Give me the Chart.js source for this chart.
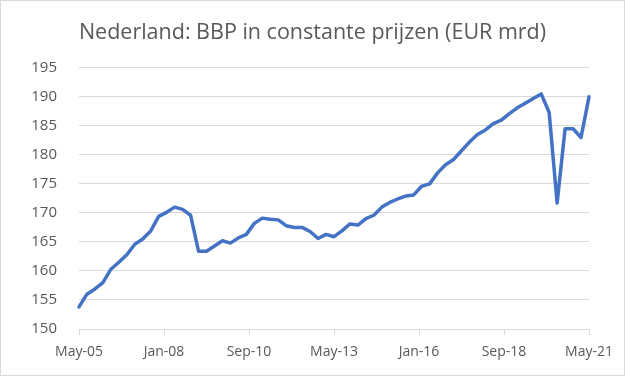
<!DOCTYPE html>
<html>
<head>
<meta charset="utf-8">
<script src="https://cdn.jsdelivr.net/npm/chart.js@4/dist/chart.umd.min.js"></script>
<style>
html, body { margin: 0; padding: 0; background: #fff; }
#wrap { position: relative; width: 623px; height: 374px; border: 1px solid #d9d9d9; }
</style>
</head>
<body>
<div id="wrap"><canvas id="bbpChart"></canvas></div>
<script>
// quarterly GDP, May-05 .. May-21 (one value every 3 months)
const MONTH_NAMES = ["Jan","Feb","Mar","Apr","May","Jun","Jul","Aug","Sep","Oct","Nov","Dec"];
const START_YEAR = 2005;
const START_MONTH = 4; // May
const BBP = [
  153.8, 156.0, 156.9, 158.0, 160.3, 161.5, 162.8, 164.6, 165.5, 166.9,
  169.4, 170.1, 171.0, 170.6, 169.6, 163.4, 163.4, 164.3, 165.2, 164.8,
  165.7, 166.3, 168.2, 169.1, 168.9, 168.8, 167.8, 167.5, 167.5, 166.8,
  165.6, 166.3, 165.9, 166.9, 168.1, 167.9, 169.0, 169.6, 171.0, 171.8,
  172.4, 172.9, 173.1, 174.6, 175.0, 176.9, 178.3, 179.2, 180.7, 182.2,
  183.5, 184.3, 185.4, 186.0, 187.1, 188.1, 188.9, 189.7, 190.5, 187.3,
  171.7, 184.5, 184.5, 183.0, 190.0
];
const X_TICKS = [0, 32, 64, 96, 128, 160, 192]; // months after May-05
const Y_MIN = 150, Y_MAX = 195, Y_STEP = 5;

const TEXT = "#595959";
const GRID = "#d9d9d9";

function monthLabel(m) {
  const total = START_MONTH + m;
  const yr = START_YEAR + Math.floor(total / 12);
  return MONTH_NAMES[total % 12] + "-" + String(yr % 100).padStart(2, "0");
}

const points = BBP.map((v, i) => ({ x: i * 3, y: v }));

new Chart(document.getElementById("bbpChart"), {
  type: "line",
  data: {
    datasets: [{
      label: "BBP",
      data: points,
      borderColor: "#4472C4",
      borderWidth: 3.5,
      pointRadius: 0,
      tension: 0,
      clip: false,
      borderJoinStyle: "round",
      borderCapStyle: "round"
    }]
  },
  options: {
    responsive: true,
    maintainAspectRatio: false,
    animation: false,
    layout: { padding: 0 },
    plugins: {
      legend: { display: false },
      tooltip: { enabled: false },
      title: {
        display: true,
        text: "Nederland: BBP in constante prijzen (EUR mrd)",
        color: TEXT,
        font: { family: "Open Sans", size: 21.5, weight: "normal" },
        padding: { top: 19, bottom: 22 }
      }
    },
    scales: {
      x: {
        type: "linear",
        min: 0,
        max: 192,
        afterBuildTicks: axis => { axis.ticks = X_TICKS.map(v => ({ value: v })); },
        afterFit: s => { s.height = 46; },
        grid: { drawOnChartArea: false, drawTicks: true, tickLength: 6, color: GRID },
        border: { display: true, color: GRID },
        ticks: {
          color: TEXT,
          font: { family: "Open Sans", size: 14 },
          padding: 9,
          maxRotation: 0,
          autoSkip: false,
          callback: v => monthLabel(v)
        }
      },
      y: {
        min: Y_MIN,
        max: Y_MAX,
        afterFit: s => { s.width = 78; },
        grid: { color: GRID, drawTicks: false },
        border: { display: false },
        ticks: {
          stepSize: Y_STEP,
          color: TEXT,
          font: { family: "Open Sans", size: 15 },
          padding: 22
        }
      },
      // empty right-hand spacer so the title stays centred on the full width
      spacer: {
        position: "right",
        min: Y_MIN,
        max: Y_MAX,
        afterFit: s => { s.width = 35; },
        grid: { display: false, drawTicks: false },
        border: { display: false },
        ticks: { display: false }
      }
    }
  }
});
</script>
</body>
</html>
